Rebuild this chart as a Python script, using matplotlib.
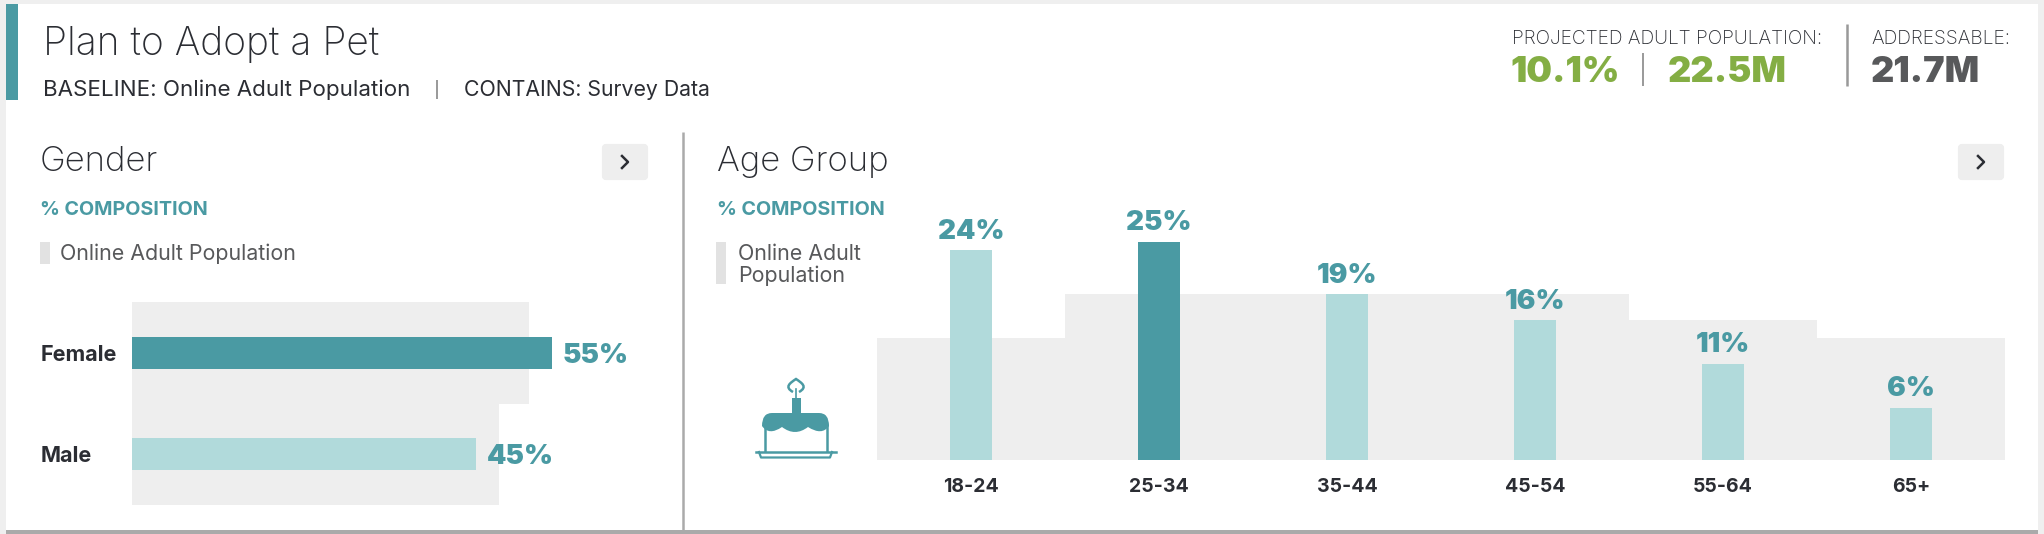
import matplotlib
matplotlib.use('Agg')
import matplotlib.pyplot as plt
from matplotlib.patches import Rectangle, FancyBboxPatch, PathPatch
from matplotlib.path import Path

genders = ['Female', 'Male']
gender_values = [55, 45]
gender_baseline = [52, 48]

ages = ['18-24', '25-34', '35-44', '45-54', '55-64', '65+']
age_values = [24, 25, 19, 16, 11, 6]
age_baseline = [14, 19, 19, 19, 16, 14]

TEAL = '#4a9aa3'
LIGHT = '#b1dadb'
GREY = '#eeeeee'
GREEN = '#84ae44'
DARK = '#2b2d33'
FONT = 'Inter'

W, H = 2044, 534
fig = plt.figure(figsize=(W / 100, H / 100), dpi=100, facecolor='#efefef')


def px_axes(x0, y0, x1, y1, zorder=1):
    # pixel box (y counted from the top) to a figure axes
    ax = fig.add_axes([x0 / W, 1 - y1 / H, (x1 - x0) / W, (y1 - y0) / H], zorder=zorder)
    ax.patch.set_alpha(0)
    for s in ax.spines.values():
        s.set_visible(False)
    return ax


# page furniture, in pixels
bg = px_axes(0, 0, W, H, zorder=0)
bg.set_xlim(0, W)
bg.set_ylim(H, 0)
bg.axis('off')
bg.add_patch(Rectangle((6, 4), 2032, 526, fc='white', ec='none'))
bg.add_patch(Rectangle((6, 530), 2032, 4, fc='#aaaaaa', ec='none'))
bg.add_patch(Rectangle((6, 4), 12, 96, fc=TEAL, ec='none'))


def txt(x, y, s, size, color=DARK, weight='normal', va='center', **kw):
    bg.text(x, y, s, fontsize=size, color=color, fontweight=weight, family=FONT, va=va, ha='left', **kw)


def vline(x, y0, y1, color='#999999', lw=1.4):
    bg.plot([x, x], [y0, y1], color=color, lw=lw, solid_capstyle='butt')


txt(43, 55, 'Plan to Adopt a Pet', 28, weight='light', va='baseline')
txt(43, 90, 'BASELINE: Online Adult Population', 16.1)
vline(437, 80, 99)
txt(464, 90, 'CONTAINS: Survey Data', 15.3)

txt(1512, 38.5, 'PROJECTED ADULT POPULATION:', 13.8, weight='light')
txt(1510, 72, '10.1%', 26, color=GREEN, weight=900)
vline(1643, 53, 86)
txt(1668, 72, '22.5M', 26, color=GREEN, weight=900)
vline(1847, 24, 86, lw=1.8)
txt(1871, 38.5, 'ADDRESSABLE:', 13.8, weight='light')
txt(1871, 72, '21.7M', 26, color='#58595b', weight=900)

vline(683, 132, 530, color='#aaaaaa', lw=1.8)


def panel_head(x, title, button_x):
    txt(x, 171, title, 25, weight='light', va='baseline')
    txt(x, 210, '% COMPOSITION', 14.2, color=TEAL, weight='bold')
    bg.add_patch(FancyBboxPatch((button_x + 2, 146), 42, 32, boxstyle='round,pad=0,rounding_size=2',
                                mutation_aspect=1, fc=GREY, ec=GREY, lw=3))
    cx = button_x + 23
    bg.plot([cx - 3, cx + 3, cx - 3], [156, 162, 168], color=DARK, lw=1.8)


panel_head(40, 'Gender', 602)
panel_head(717, 'Age Group', 1958)

bg.add_patch(Rectangle((40, 242), 10, 22, fc='#e2e2e2', ec='none'))
txt(60, 254, 'Online Adult Population', 15.4, color='#58595b')
bg.add_patch(Rectangle((716, 242), 10, 42, fc='#e2e2e2', ec='none'))
txt(738, 254, 'Online Adult', 15.4, color='#58595b')
txt(738, 276, 'Population', 15.4, color='#58595b')

# cake icon
C3 = Path.CURVE3
C4 = Path.CURVE4
bg.add_patch(Rectangle((792, 398), 9, 16, fc=TEAL, ec='none'))
bg.add_patch(PathPatch(Path([(793, 392), (784, 387), (790, 383), (796, 379), (802, 383), (808, 387), (799, 392)],
                            [Path.MOVETO, C4, C4, C4, C4, C4, C4]),
                       fc='none', ec=TEAL, lw=1.8))
bg.plot([796, 796], [389, 398], color=TEAL, lw=1.2)
bg.plot([764.5, 764.5], [425, 451], color=TEAL, lw=1.8)
bg.plot([826.5, 826.5], [425, 451], color=TEAL, lw=1.8)
bg.plot([756, 836], [451.5, 451.5], color=TEAL, lw=1.8)
bg.plot([759, 761, 830, 832], [452, 457.5, 457.5, 452], color=TEAL, lw=1.6)
icing = Path([(762, 426), (762, 413), (772, 413), (819, 413), (829, 413), (829, 426),
              (822, 436), (808, 427), (795, 437), (782, 427), (769, 436), (762, 426), (762, 426)],
             [Path.MOVETO, C3, C3, Path.LINETO, C3, C3, C3, C3, C3, C3, C3, C3, Path.CLOSEPOLY])
bg.add_patch(PathPatch(icing, fc=TEAL, ec='none'))

# gender bars
ax1 = px_axes(132, 302, 132 + 7.636 * 60, 505)
ax1.set_xlim(0, 60)
ax1.set_ylim(1.5, -0.5)
ypos = range(len(genders))
ax1.barh(ypos, gender_baseline, height=1.0, color=GREY, zorder=1)
bars1 = ax1.barh(ypos, gender_values, height=0.315, color=[TEAL, LIGHT], zorder=2)
labs1 = ax1.bar_label(bars1, labels=[f'{v}%' for v in gender_values], padding=8, color=TEAL,
                      fontsize=20, fontweight=900, family=FONT)
for t in labs1:
    t.xyann = (t.xyann[0], -2)
ax1.set_xticks([])
ax1.set_yticks(list(ypos), genders, fontsize=15.5, fontweight='bold', color=DARK, family=FONT)
ax1.tick_params(axis='y', length=0, pad=66)
for lab in ax1.get_yticklabels():
    lab.set_ha('left')

# age bars
ax2 = px_axes(877, 460 - 8.73 * 28, 2005, 460)
ax2.set_xlim(-0.5, 5.5)
ax2.set_ylim(0, 28)
xpos = range(len(ages))
ax2.bar(xpos, age_baseline, width=1.0, color=GREY, zorder=1)
bars2 = ax2.bar(xpos, age_values, width=0.223, color=[LIGHT, TEAL, LIGHT, LIGHT, LIGHT, LIGHT], zorder=2)
ax2.bar_label(bars2, labels=[f'{v}%' for v in age_values], padding=4, color=TEAL,
              fontsize=20, fontweight=900, family=FONT)
ax2.set_yticks([])
ax2.set_xticks(list(xpos), ages, fontsize=14, fontweight='bold', color=DARK, family=FONT)
ax2.tick_params(axis='x', length=0, pad=13)

fig.savefig('out.png', dpi=100, facecolor=fig.get_facecolor())
